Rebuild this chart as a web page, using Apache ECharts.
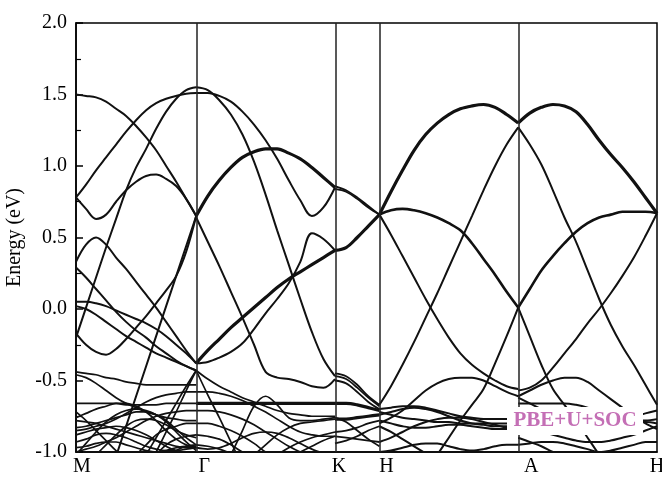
<!DOCTYPE html>
<html><head><meta charset="utf-8">
<script src="https://cdn.jsdelivr.net/npm/echarts@6/dist/echarts.min.js"></script>
<style>html,body{margin:0;padding:0;background:#fff}#c{width:662px;height:477px}</style>
</head><body><div id="c"></div>
<script>
// high-symmetry points (k-path distance) and names
const kNodes = [0, 0.866, 1.866, 2.186, 3.186, 4.186];
const kNames = ['M', 'Γ', 'K', 'H', 'A', 'H'];
const yTicks = [-1.0, -0.5, 0.0, 0.5, 1.0, 1.5, 2.0];
// sample fractions along each segment
const frac13 = [0, 0.0833, 0.1667, 0.25, 0.3333, 0.4167, 0.5, 0.5833, 0.6667, 0.75, 0.8333, 0.9167, 1];
const frac5 = [0, 0.25, 0.5, 0.75, 1];
const _ = null;

// M - Γ
const bandsMG = [
  [1.50,1.49,1.48,1.45,1.40,1.35,1.28,1.20,1.11,1.00,0.89,0.77,0.65],
  [0.78,0.87,0.97,1.06,1.15,1.24,1.32,1.39,1.44,1.47,1.49,1.505,1.51],
  [0.78,0.70,0.63,0.66,0.75,0.83,0.89,0.93,0.94,0.91,0.86,0.77,0.65],
  [-0.20,0.01,0.22,0.43,0.63,0.83,0.99,1.12,1.26,1.38,1.47,1.53,1.55],
  [-0.17,-0.25,-0.30,-0.32,-0.28,-0.21,-0.13,-0.05,0.04,0.13,0.23,0.40,0.65],
  [_,_,_,_,-1.03,-0.82,-0.61,-0.40,-0.19,0.02,0.23,0.44,0.65],
  [0.33,0.45,0.50,0.45,0.36,0.28,0.19,0.10,0.01,-0.09,-0.19,-0.29,-0.38],
  [0.29,0.22,0.14,0.06,-0.02,-0.09,-0.15,-0.20,-0.26,-0.31,-0.36,-0.40,-0.43],
  [0.05,0.05,0.04,0.02,-0.01,-0.04,-0.07,-0.10,-0.14,-0.19,-0.25,-0.31,-0.38],
  [0.02,0.00,-0.04,-0.09,-0.14,-0.19,-0.23,-0.27,-0.31,-0.34,-0.37,-0.40,-0.43]
];
const lowMG = [
  [-0.44,-0.45,-0.46,-0.48,-0.49,-0.51,-0.52,-0.53,-0.53,-0.53,-0.53,-0.53,-0.53],
  [-0.46,-0.48,-0.52,-0.57,-0.62,-0.66,-0.69,-0.72,-0.74,-0.76,-0.77,-0.78,-0.78],
  [-0.66,-0.66,-0.66,-0.66,-0.66,-0.67,-0.67,-0.67,-0.67,-0.66,-0.66,-0.66,-0.66],
  [-0.85,-0.84,-0.82,-0.80,-0.77,-0.73,-0.69,-0.65,-0.62,-0.60,-0.59,-0.58,-0.58],
  [-1.00,-0.98,-0.96,-0.93,-0.90,-0.86,-0.82,-0.78,-0.75,-0.73,-0.72,-0.71,-0.71],
  [_,_,_,_,_,_,-1.02,-0.95,-0.88,-0.84,-0.82,-0.80,-0.80],
  [_,_,_,_,_,_,_,_,-1.02,-0.95,-0.91,-0.89,-0.88],
  [_,_,_,_,_,_,_,_,_,_,-0.99,-0.96,-0.95],
  [_,_,_,_,_,_,_,_,-1.00,-0.86,-0.72,-0.57,-0.43],
  [_,_,_,_,_,_,_,-1.02,-0.90,-0.78,-0.66,-0.54,-0.43],
  [-0.76,-0.73,-0.70,-0.68,-0.66,-0.66,-0.68,-0.72,-0.78,-0.85,-0.91,-0.95,-0.97],
  [-0.78,-0.79,-0.80,-0.82,-0.84,-0.86,-0.88,-0.90,-0.92,-0.94,-0.96,-0.97,-0.97],
  [-0.83,-0.82,-0.80,-0.78,-0.76,-0.74,-0.72,-0.72,-0.74,-0.78,-0.84,-0.90,-0.95],
  [-0.88,-0.86,-0.84,-0.83,-0.82,-0.83,-0.85,-0.88,-0.92,-0.96,-0.99,-1.00,-1.00],
  [-0.93,-0.91,-0.88,-0.87,-0.88,-0.90,-0.93,-0.96,-0.98,-0.99,-0.99,-0.98,-0.97],
  [-0.97,-0.96,-0.94,-0.93,-0.93,-0.95,-0.97,-0.99,-1.00,-0.99,-0.97,-0.96,-0.96],
  [-0.72,-0.78,-0.85,-0.92,-0.99,-1.04,_,_,_,_,_,_,_],
  [-1.02,-0.94,-0.86,-0.79,-0.74,-0.71,-0.70,-0.71,-0.74,-0.79,-0.86,-0.93,-0.99],
  [_,_,-1.02,-0.95,-0.88,-0.82,-0.78,-0.77,-0.78,-0.81,-0.85,-0.88,-0.90]
];
// Γ - K
const thickGK = [
  [0.65,0.79,0.90,0.99,1.06,1.10,1.12,1.12,1.09,1.05,0.99,0.92,0.85],
  [-0.38,-0.29,-0.21,-0.13,-0.06,0.01,0.08,0.15,0.21,0.26,0.31,0.36,0.41],
  [-0.66,-0.66,-0.66,-0.66,-0.66,-0.66,-0.66,-0.66,-0.66,-0.66,-0.66,-0.66,-0.66]
];
const bandsGK = [
  [1.51,1.51,1.49,1.45,1.38,1.29,1.18,1.05,0.90,0.76,0.65,0.71,0.85],
  [1.55,1.53,1.46,1.36,1.22,1.03,0.80,0.55,0.31,0.07,-0.16,-0.35,-0.47],
  [0.64,0.47,0.30,0.12,-0.06,-0.25,-0.44,-0.48,-0.49,-0.51,-0.54,-0.55,-0.49],
  [-0.38,-0.37,-0.34,-0.30,-0.24,-0.14,-0.03,0.07,0.18,0.33,0.53,0.49,0.41]
];
const lowGK = [
  [-0.43,-0.60,-0.76,-0.93,-1.10,_,_,_,_,_,_,_,_],
  [-0.43,-0.49,-0.54,-0.58,-0.62,-0.65,-0.68,-0.71,-0.73,-0.74,-0.75,-0.75,-0.75],
  [_,_,_,-1.02,-0.85,-0.68,-0.61,-0.67,-0.76,-0.78,-0.78,-0.77,-0.76],
  [-0.58,-0.58,-0.59,-0.61,-0.64,-0.68,-0.72,-0.77,-0.82,-0.86,-0.88,-0.89,-0.89],
  [-0.71,-0.71,-0.72,-0.74,-0.77,-0.81,-0.86,-0.91,-0.96,-1.00,-1.03,_,_],
  [-0.80,-0.80,-0.82,-0.85,-0.89,-0.94,-1.00,-1.04,_,_,_,_,_],
  [-0.88,-0.89,-0.91,-0.95,-1.00,-1.04,_,_,_,_,_,_,_],
  [-0.95,-0.96,-0.98,-1.01,_,_,_,_,_,_,_,_,_],
  [_,_,_,_,_,_,_,-1.02,-0.97,-0.93,-0.90,-0.88,-0.86],
  [_,_,_,_,_,_,_,_,_,-1.00,-0.96,-0.92,-0.89],
  [-0.97,-0.98,-0.97,-0.94,-0.90,-0.87,-0.86,-0.87,-0.90,-0.94,-0.98,-1.01,_],
  [_,_,_,_,_,-1.02,-0.95,-0.88,-0.83,-0.80,-0.79,-0.78,-0.77]
];
// K - H
const thickKH = [
  [0.41,0.43,0.50,0.58,0.66],
  [-0.66,-0.66,-0.67,-0.69,-0.71],
  [-0.77,-0.77,-0.76,-0.75,-0.74]
];
const bandsKH = [
  [0.86,0.83,0.78,0.72,0.66],
  [0.84,0.82,0.77,0.71,0.66],
  [-0.45,-0.47,-0.53,-0.61,-0.67],
  [-0.47,-0.49,-0.55,-0.62,-0.68],
  [-0.50,-0.52,-0.58,-0.65,-0.70],
  [-0.86,-0.85,-0.83,-0.80,-0.78],
  [-0.89,-0.90,-0.91,-0.92,-0.93],
  [-0.76,-0.79,-0.85,-0.91,-0.96],
  [-0.94,-0.92,-0.89,-0.85,-0.82]
];
// H - A
const thickHA = [
  [0.66,0.82,0.97,1.11,1.22,1.30,1.36,1.40,1.42,1.43,1.41,1.36,1.30]
];
const midHA = [
  [0.66,0.69,0.70,0.69,0.67,0.64,0.60,0.55,0.46,0.35,0.24,0.12,0.01]
];
const bandsHA = [
  [0.66,0.52,0.37,0.22,0.07,-0.07,-0.20,-0.31,-0.39,-0.45,-0.50,-0.54,-0.56],
  [-0.67,-0.54,-0.39,-0.23,-0.06,0.11,0.29,0.47,0.65,0.83,1.00,1.15,1.27],
  [_,_,_,_,_,-1.02,-0.90,-0.78,-0.67,-0.56,-0.38,-0.19,0.01],
  [-0.80,-0.76,-0.71,-0.64,-0.57,-0.52,-0.49,-0.48,-0.48,-0.50,-0.54,-0.58,-0.61],
  [-0.70,-0.69,-0.68,-0.68,-0.69,-0.71,-0.73,-0.75,-0.76,-0.77,-0.77,-0.77,-0.77],
  [-0.72,-0.74,-0.76,-0.77,-0.78,-0.79,-0.79,-0.80,-0.80,-0.80,-0.80,-0.80,-0.80],
  [-0.74,-0.72,-0.70,-0.69,-0.70,-0.72,-0.75,-0.78,-0.80,-0.81,-0.82,-0.82,-0.82],
  [-0.78,-0.80,-0.82,-0.83,-0.83,-0.82,-0.81,-0.81,-0.82,-0.83,-0.84,-0.84,-0.84],
  [-0.93,-0.90,-0.86,-0.82,-0.79,-0.77,-0.76,-0.76,-0.77,-0.79,-0.81,-0.83,-0.84],
  [-0.82,-0.86,-0.91,-0.96,-1.01,_,_,_,_,_,_,_,_],
  [-1.00,-0.99,-0.97,-0.95,-0.94,-0.94,-0.96,-0.98,-0.99,-0.98,-0.96,-0.95,-0.95]
];
// A - H
const thickAH = [
  [1.30,1.37,1.41,1.43,1.42,1.38,1.29,1.18,1.08,0.99,0.89,0.78,0.67]
];
const midAH = [
  [0.01,0.14,0.27,0.37,0.46,0.54,0.60,0.64,0.66,0.68,0.68,0.68,0.67]
];
const bandsAH = [
  [1.27,1.15,1.01,0.83,0.64,0.47,0.27,0.07,-0.11,-0.26,-0.39,-0.53,-0.67],
  [-0.57,-0.55,-0.50,-0.41,-0.31,-0.21,-0.10,0.00,0.11,0.23,0.36,0.51,0.67],
  [0.01,-0.19,-0.39,-0.56,-0.67,-0.78,-0.90,-1.02,_,_,_,_,_],
  [-0.61,-0.57,-0.53,-0.50,-0.48,-0.48,-0.51,-0.57,-0.63,-0.69,-0.75,-0.80,-0.84],
  [-0.62,-0.66,-0.70,-0.73,-0.75,-0.76,-0.77,-0.77,-0.77,-0.76,-0.75,-0.73,-0.71],
  [-0.66,-0.66,-0.66,-0.66,-0.66,-0.67,-0.69,-0.72,-0.75,-0.77,-0.78,-0.78,-0.77],
  [-0.80,-0.80,-0.80,-0.80,-0.81,-0.82,-0.82,-0.81,-0.80,-0.80,-0.79,-0.79,-0.80],
  [-0.84,-0.85,-0.86,-0.88,-0.90,-0.92,-0.93,-0.93,-0.92,-0.90,-0.88,-0.85,-0.82],
  [-0.95,-0.94,-0.93,-0.93,-0.94,-0.96,-0.98,-1.00,-0.99,-0.97,-0.95,-0.93,-0.93],
  [-0.90,-0.93,-0.96,-1.00,-1.03,_,_,_,_,_,_,_,_]
];

const series = [];
function addSeg(seg, frac, lines, width) {
  const k0 = kNodes[seg], k1 = kNodes[seg + 1];
  lines.forEach(function (E) {
    series.push({
      type: 'line', silent: true, symbol: 'none', smooth: 0.35, clip: true,
      animation: false, connectNulls: false,
      lineStyle: { color: '#111', width: width },
      data: E.map(function (e, i) { return [k0 + (k1 - k0) * frac[i], e]; })
    });
  });
}
addSeg(0, frac13, bandsMG, 2);
addSeg(0, frac13, lowMG, 1.7);
addSeg(1, frac13, bandsGK, 2);
addSeg(1, frac13, lowGK, 1.7);
addSeg(1, frac13, thickGK, 3.2);
addSeg(2, frac5, bandsKH, 1.8);
addSeg(2, frac5, thickKH, 3.2);
addSeg(3, frac13, bandsHA, 2);
addSeg(3, frac13, midHA, 2.6);
addSeg(3, frac13, thickHA, 3.2);
addSeg(4, frac13, bandsAH, 2);
addSeg(4, frac13, midAH, 2.6);
addSeg(4, frac13, thickAH, 3.2);

series[0].markLine = {
  silent: true, symbol: ['none', 'none'], animation: false,
  label: { show: false },
  lineStyle: { color: '#222', width: 1.5, type: 'solid' },
  data: kNodes.slice(1, 5).map(function (v) { return { xAxis: v }; })
};

const labelPad = [12, 16, 8, 14, 26, 0];
const rich = {};
labelPad.forEach(function (p, i) {
  rich['p' + i] = { padding: [0, 0, 0, p], fontFamily: 'Liberation Serif', fontSize: 20, color: '#000' };
});

const chart = echarts.init(document.getElementById('c'), null, { renderer: 'canvas' });
chart.setOption({
  animation: false,
  backgroundColor: '#fff',
  grid: { left: 76, right: 5, top: 23, bottom: 25, show: true, borderColor: '#000', borderWidth: 1.5,
          containLabel: false, outerBoundsMode: 'none' },
  xAxis: {
    type: 'value', min: 0, max: kNodes[kNodes.length - 1],
    axisLine: { show: true, onZero: false, lineStyle: { color: '#000', width: 1.5 } },
    axisTick: { show: false },
    splitLine: { show: false },
    axisLabel: {
      customValues: kNodes, showMinLabel: true, showMaxLabel: true, hideOverlap: false,
      margin: 5, fontFamily: 'Liberation Serif', fontSize: 20, color: '#000',
      formatter: function (v) {
        for (let i = 0; i < kNodes.length; i++) {
          if (Math.abs(kNodes[i] - v) < 1e-6) return '{p' + i + '|' + kNames[i] + '}';
        }
        return '';
      },
      rich: rich
    }
  },
  yAxis: {
    type: 'value', min: yTicks[0], max: yTicks[yTicks.length - 1], interval: 0.5,
    name: 'Energy (eV)', nameLocation: 'middle', nameGap: 38,
    nameTextStyle: { fontFamily: 'Liberation Serif', fontSize: 20, color: '#000' },
    axisLine: { show: true, onZero: false, lineStyle: { color: '#000', width: 1.5 } },
    axisTick: { show: true, inside: true, length: 7, lineStyle: { color: '#000', width: 1.5 } },
    minorTick: { show: true, splitNumber: 2, length: 5, lineStyle: { color: '#000', width: 1.2 } },
    splitLine: { show: false },
    axisLabel: {
      margin: 9, fontFamily: 'Liberation Serif', fontSize: 20, color: '#000',
      formatter: function (v) { return v.toFixed(1); }
    }
  },
  graphic: [
    { type: 'rect', z: 100, shape: { x: 507, y: 407, width: 136, height: 28 }, style: { fill: '#fff' } },
    { type: 'text', z: 101, x: 575, y: 421,
      style: { text: 'PBE+U+SOC', font: 'bold 21px "Liberation Serif"', fill: '#c46fb5', align: 'center', verticalAlign: 'middle' } }
  ],
  series: series
});
</script>
</body></html>
